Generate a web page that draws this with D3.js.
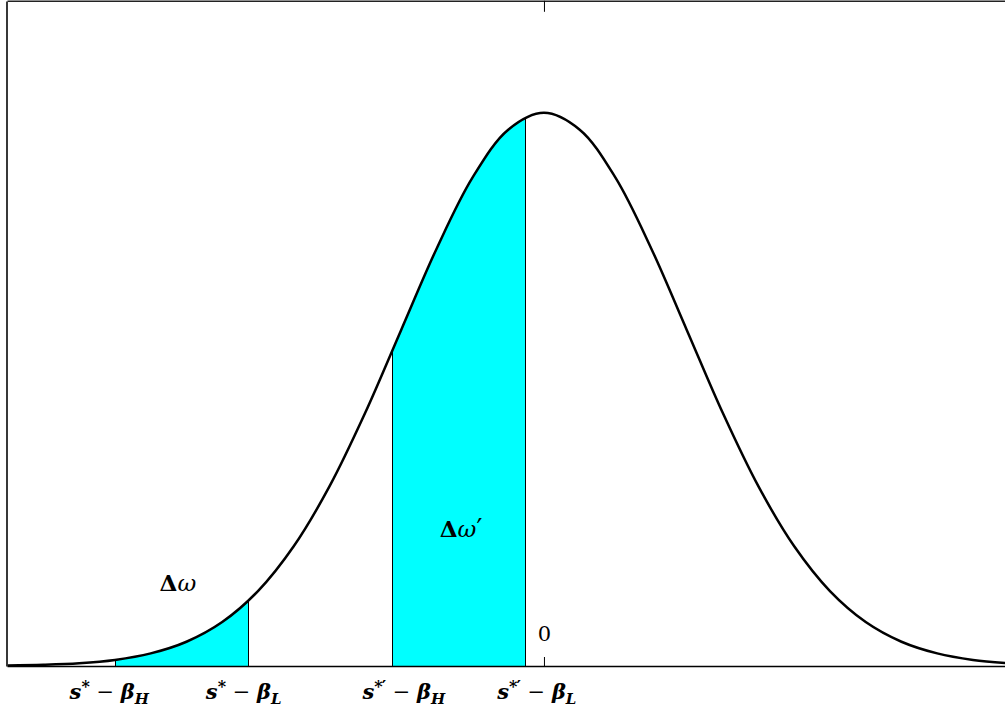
<!DOCTYPE html>
<html><head><meta charset="utf-8">
<script src="https://cdn.jsdelivr.net/npm/d3@7"></script>
<style>
html,body{margin:0;padding:0;background:#fff;}
svg{display:block;}
.lbl{font-family:"DejaVu Serif",serif;font-style:italic;font-weight:bold;font-size:21px;}
</style></head><body>
<script>
const curveX = [-3.75,-3.5,-3.25,-3,-2.75,-2.5,-2.25,-2,-1.75,-1.5,-1.25,-1,-0.75,-0.5,-0.25,0,0.25,0.5,0.75,1,1.25,1.5,1.75,2,2.25,2.5,2.75,3,3.25];
const curveY = [0.0004,0.0009,0.0020,0.0044,0.0091,0.0175,0.0317,0.0540,0.0863,0.1295,0.1826,0.2420,0.3011,0.3521,0.3867,0.3989,0.3867,0.3521,0.3011,0.2420,0.1826,0.1295,0.0863,0.0540,0.0317,0.0175,0.0091,0.0044,0.0020];
// shaded intervals
const bandStart = [-3.0, -1.06];
const bandEnd = [-2.07, -0.13];
const bandPrime = [false, true];
const bandLabelX = [-2.56, -0.58];
const bandLabelY = [0.054, 0.093];
// boundary tick labels
const boundaryX = [-3.0, -2.07, -1.06, -0.13];
const boundaryLabelX = [-3.04, -2.10, -0.98, -0.05];
const boundaryPrime = [false, false, true, true];
const boundarySub = ["H", "L", "H", "L"];
const tickValues = [0];
const tickLabels = ["0"];

const W = 1005, H = 715;
const svg = d3.select("body").append("svg").attr("width", W).attr("height", H);
const x = d3.scaleLinear().domain([-3.755, 3.224]).range([7, 1005]);
const y = d3.scaleLinear().domain([0, 0.4795]).range([666, 1]);
const pts = curveX.map((v, i) => [v, curveY[i]]);

const defs = svg.append("defs");
defs.append("clipPath").attr("id", "plot").append("rect")
  .attr("x", 7).attr("y", 0).attr("width", W - 7).attr("height", 666);

const area = d3.area().x(d => x(d[0])).y0(y(0)).y1(d => y(d[1])).curve(d3.curveCatmullRom);
const line = d3.line().x(d => x(d[0])).y(d => y(d[1])).curve(d3.curveCatmullRom);

defs.append("clipPath").attr("id", "under").append("path").attr("d", area(pts));

const g = svg.append("g").attr("clip-path", "url(#plot)");

bandStart.forEach((a, i) => {
  const id = "band" + i;
  defs.append("clipPath").attr("id", id).append("rect")
    .attr("x", x(a)).attr("y", 0).attr("width", x(bandEnd[i]) - x(a)).attr("height", 666);
  g.append("path").attr("d", area(pts)).attr("fill", "#00ffff").attr("clip-path", `url(#${id})`);
});

const gl = g.append("g").attr("clip-path", "url(#under)");
boundaryX.forEach(b => {
  gl.append("line").attr("x1", Math.round(x(b)) + 0.5).attr("x2", Math.round(x(b)) + 0.5)
    .attr("y1", 0).attr("y2", 666).attr("stroke", "#000").attr("stroke-width", 1);
});

g.append("path").attr("d", line(pts)).attr("fill", "none").attr("stroke", "#000").attr("stroke-width", 2.5);

// axes / frame
const bottomAxis = d3.axisTop(x).tickValues(tickValues).tickFormat((d, i) => tickLabels[i]).tickSize(9).tickSizeOuter(0).tickPadding(16);
const ba = svg.append("g").attr("transform", "translate(0,666)").call(bottomAxis);
ba.select(".domain").attr("stroke-width", 1.6);
ba.selectAll("text").attr("font-family", "DejaVu Serif, serif").attr("font-size", 21).attr("fill", "#000");

const topAxis = d3.axisBottom(x).tickValues(tickValues).tickFormat("").tickSize(11).tickSizeOuter(0);
const ta = svg.append("g").attr("transform", "translate(0,0.8)").call(topAxis);
ta.select(".domain").attr("stroke-width", 1.6).attr("stroke", "#222");

const leftAxis = d3.axisRight(y).tickValues([]).tickSizeOuter(0);
const la = svg.append("g").attr("transform", "translate(6.5,0)").call(leftAxis);
la.select(".domain").attr("stroke-width", 1.8).attr("stroke", "#222");

// boundary labels
boundaryLabelX.forEach((lx, i) => {
  const t = svg.append("text").attr("class", "lbl").attr("x", x(lx)).attr("y", 699).attr("text-anchor", "middle");
  t.append("tspan").text("s");
  t.append("tspan").attr("dy", -7).attr("font-size", 16).attr("font-style", "normal").text("*");
  if (boundaryPrime[i]) t.append("tspan").attr("font-size", 17).attr("font-style", "normal").attr("dx", -1).text("\u2032");
  t.append("tspan").attr("dy", 7).attr("font-style", "normal").attr("font-weight", "normal").text(" \u2212 ");
  t.append("tspan").text("\u03b2");
  t.append("tspan").attr("dy", 5).attr("font-size", 15).text(boundarySub[i]);
});

bandPrime.forEach((p, i) => {
  const t = svg.append("text").attr("x", x(bandLabelX[i])).attr("y", y(bandLabelY[i]))
    .attr("text-anchor", "middle").attr("font-family", "DejaVu Serif, serif").attr("font-size", 23)
    .attr("fill", "#000");
  t.append("tspan").attr("font-weight", "bold").text("\u0394");
  t.append("tspan").attr("font-style", "italic").text("\u03c9");
  if (p) t.append("tspan").attr("font-size", 26).text("\u2032");
});
</script>
</body></html>
